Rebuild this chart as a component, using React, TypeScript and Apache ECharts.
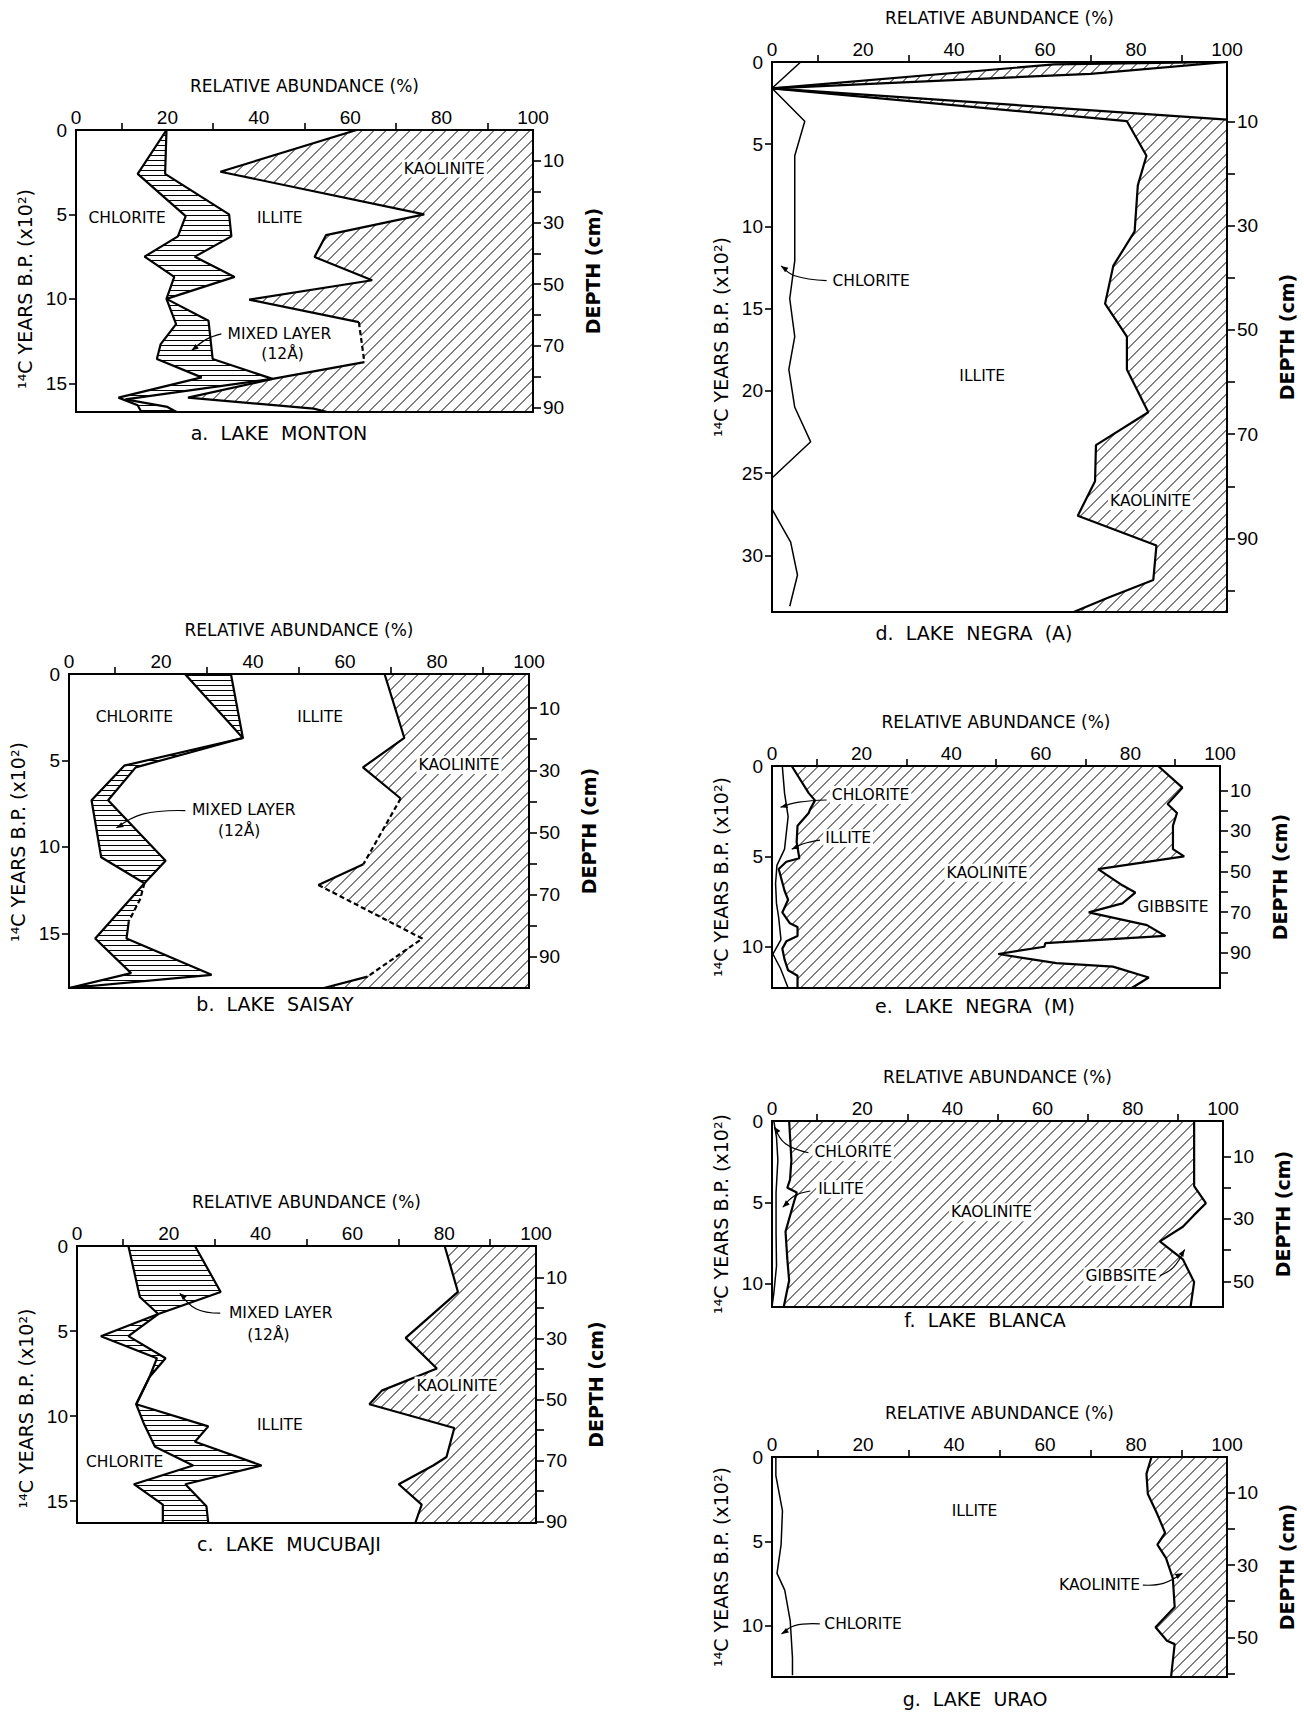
import React, { useEffect, useRef } from "react";
import * as echarts from "echarts";

type Pt = [number, number];

const FONT = '"Liberation Sans", Arial, sans-serif';
const FONT_W = '"DejaVu Sans", "Liberation Sans", sans-serif';

// ---------- shared axis values ----------
const abundanceLabels = [0, 20, 40, 60, 80, 100];
const abundanceTicks = [10, 30, 50, 70, 90];
const abundanceName = "RELATIVE ABUNDANCE (%)";
const yearName = "¹⁴C YEARS B.P. (x10²)";
const depthName = "DEPTH (cm)";

// ---------- a. Lake Monton ----------
const monYearMax = 16.7;
const monDepthExtent = [0, 91.5];
const monYearTicks = [5, 10, 15];
const monYearLabels = [0, 5, 10, 15];
const monDepthTicks = [10, 20, 30, 40, 50, 60, 70, 80, 90];
const monDepthLabels = [10, 30, 50, 70, 90];
const monChlorite: Pt[] = [[19.8, 0], [13.5, 2.6], [24, 5.1], [22.3, 6.3], [15, 7.5], [21.5, 8.7], [19.8, 10.0], [21.9, 11.5], [18.5, 12.7], [17.7, 13.56], [27.5, 14.65], [9.3, 15.85], [13.5, 16.3], [14.3, 16.7]];
const monMixed: Pt[] = [[19.8, 0], [19.5, 2.6], [33.5, 5.0], [34, 6.3], [26, 7.5], [34.7, 8.7], [19.8, 10.0], [29, 11.3], [29.9, 13.56], [43, 14.74], [10.8, 15.95], [20, 16.4], [22, 16.7]];
const monIllite: Pt[] = [[61.4, 0], [31.6, 2.47], [76.2, 5.0], [54.7, 6.23], [52.2, 7.52], [64.8, 8.9], [37.9, 10.05], [61.9, 11.38], [63.1, 13.75], [43, 14.74], [24.5, 15.85], [52, 16.5], [55, 16.7]];
const monIlliteDashedSegs = [7];

// ---------- b. Lake Saisay ----------
const saiYearMax = 18.16;
const saiDepthExtent = [-1, 100.1];
const saiYearTicks = [5, 10, 15];
const saiYearLabels = [0, 5, 10, 15];
const saiDepthTicks = [10, 20, 30, 40, 50, 60, 70, 80, 90];
const saiDepthLabels = [10, 30, 50, 70, 90];
const saiChlorite: Pt[] = [[25.2, 0], [37.8, 3.7], [12, 5.3], [4.9, 7.3], [7, 10.6], [16.4, 12.1], [5.7, 15.3], [13.5, 17.3], [0, 18.16]];
const saiMixed: Pt[] = [[35.2, 0], [37.8, 3.7], [14.5, 5.4], [8.5, 7.3], [21, 10.8], [16.4, 12.1], [15.5, 13.0], [13, 14.3], [12.5, 15.3], [31, 17.4], [0, 18.16]];
const saiMixedDashedSegs = [5, 6];
const saiIllite: Pt[] = [[68.6, 0], [72.9, 3.7], [63.9, 5.4], [72.1, 7.2], [64, 11.0], [54.2, 12.2], [76.8, 15.3], [64.9, 17.5], [55.4, 18.16]];
const saiIlliteDashedSegs = [3, 5, 6];

// ---------- c. Lake Mucubaji ----------
const mucYearMax = 16.28;
const mucDepthExtent = [-0.3, 90.5];
const mucYearTicks = [5, 10, 15];
const mucYearLabels = [0, 5, 10, 15];
const mucDepthTicks = [10, 20, 30, 40, 50, 60, 70, 80, 90];
const mucDepthLabels = [10, 30, 50, 70, 90];
const mucChlorite: Pt[] = [[11.2, 0], [13.7, 3.0], [17.7, 4.0], [5.2, 5.3], [17.4, 6.6], [15.8, 7.7], [12.9, 9.3], [14.5, 10.4], [17, 11.8], [25.3, 12.9], [12.4, 14.0], [18.7, 15.2], [18.7, 16.28]];
const mucMixed: Pt[] = [[25.7, 0], [31.3, 2.7], [17.7, 4.0], [11.2, 5.3], [19.3, 6.6], [15.8, 7.7], [12.9, 9.3], [28.6, 10.6], [25.7, 11.5], [40.2, 12.9], [23.6, 14.0], [28.2, 15.3], [28.6, 16.28]];
const mucIllite: Pt[] = [[80.1, 0], [83, 2.7], [71.6, 5.4], [78.4, 7.2], [66.4, 8.5], [63.7, 9.3], [82.2, 10.7], [80.5, 12.4], [77.6, 12.9], [70.1, 14.0], [75.1, 15.2], [73.7, 16.28]];

// ---------- d. Lake Negra (A) ----------
const negAYearMax = 33.45;
const negADepthExtent = [-1.4, 104.1];
const negAYearTicks = [5, 10, 15, 20, 25, 30];
const negAYearLabels = [0, 5, 10, 15, 20, 25, 30];
const negADepthTicks = [10, 20, 30, 40, 50, 60, 70, 80, 90, 100];
const negADepthLabels = [10, 30, 50, 70, 90];
const negAChlorite: Pt[] = [[6.3, 0], [0, 1.6], [7.2, 3.6], [5, 5.7], [5, 12.1], [3.9, 14.4], [5, 16.7], [3.7, 18.7], [5, 21], [8.5, 23.1], [0, 25.3], [0, 27.2], [4.1, 29.2], [5.6, 31.2], [3.9, 33.1]];
const negATopUpper: Pt[] = [[100, 0], [62, 0.15], [0, 1.6]];
const negATopLower: Pt[] = [[100, 0], [70, 0.72], [0, 1.6]];
const negAUpper: Pt[] = [[0, 1.6], [100, 3.5]];
const negAIllite: Pt[] = [[0, 1.6], [78, 3.6], [82.3, 5.7], [80.4, 7.5], [79.7, 10.3], [75, 12.4], [73.2, 14.7], [78, 16.7], [78, 18.7], [82.7, 21.3], [71.2, 23.3], [71, 25.5], [67.2, 27.6], [84.5, 29.4], [83.8, 31.5], [73.7, 32.6], [66.3, 33.45]];

// ---------- e. Lake Negra (M) ----------
const negMYearMax = 12.28;
const negMDepthExtent = [-2, 107.3];
const negMYearTicks = [5, 10];
const negMYearLabels = [0, 5, 10];
const negMDepthTicks = [10, 20, 30, 40, 50, 60, 70, 80, 90, 100];
const negMDepthLabels = [10, 30, 50, 70, 90];
const negMChlorite: Pt[] = [[2.3, 0], [2.8, 1.5], [3.6, 2.8], [2.8, 4.6], [1.1, 5.5], [0.8, 6.5], [1.0, 7.6], [1.5, 8.4], [2.0, 9.6], [0.2, 10.4], [1.9, 11.2], [3.6, 12.28]];
const negMIllite: Pt[] = [[4.4, 0], [8.2, 1.5], [9.6, 1.9], [8.5, 2.4], [8.2, 2.6], [5.7, 3.3], [5.5, 4.2], [6.1, 5.1], [3.2, 5.3], [1.5, 5.7], [2.8, 6.9], [3.6, 7.4], [2.3, 8.1], [4.0, 8.7], [5.7, 8.9], [5.7, 9.4], [3.2, 9.7], [2.3, 10.1], [2.8, 10.7], [3.6, 11.3], [5.7, 11.6], [5.7, 12.28]];
const negMKaolinite: Pt[] = [[86.2, 0], [91.6, 1.2], [88.3, 2.1], [90.4, 2.6], [89.5, 3.3], [89.5, 4.6], [92, 5.0], [72.8, 5.7], [78.2, 6.6], [81.1, 7.0], [78.2, 7.6], [70.7, 8.1], [83.7, 8.8], [87.8, 9.4], [61, 9.8], [60.8, 10.0], [50.5, 10.4], [63.5, 10.9], [76.1, 11.1], [84.1, 11.7], [80.3, 12.28]];

// ---------- f. Lake Blanca ----------
const blaYearMax = 11.43;
const blaDepthExtent = [-1.4, 58.2];
const blaYearTicks = [5, 10];
const blaYearLabels = [0, 5, 10];
const blaDepthTicks = [10, 20, 30, 40, 50];
const blaDepthLabels = [10, 30, 50];
const blaChlorite: Pt[] = [[0.4, 0], [1.0, 1.0], [1.3, 2.4], [0.9, 4.4], [0.9, 6.9], [1.0, 8.9], [0.4, 10.6], [0, 11.43]];
const blaIllite: Pt[] = [[3.8, 0], [4.3, 2.4], [4.0, 3.6], [3.4, 4.1], [5.5, 4.4], [4.9, 4.95], [3.0, 6.8], [3.4, 8.5], [3.8, 9.8], [2.6, 11.43]];
const blaKaolinite: Pt[] = [[93.6, 0], [93.6, 4.0], [96.2, 5.05], [93.5, 5.8], [91.1, 6.5], [86, 7.4], [91.1, 8.5], [93.6, 9.9], [92.8, 11.43]];

// ---------- g. Lake Urao ----------
const uraYearMax = 13.05;
const uraDepthExtent = [0.1, 61.0];
const uraYearTicks = [5, 10];
const uraYearLabels = [0, 5, 10];
const uraDepthTicks = [10, 20, 30, 40, 50, 60];
const uraDepthLabels = [10, 30, 50];
const uraChlorite: Pt[] = [[0.85, 0], [0.85, 1.1], [2.3, 3.2], [2.0, 5.2], [1.1, 6.9], [2.8, 7.9], [4.0, 9.7], [4.5, 11.9], [4.5, 12.95]];
const uraIllite: Pt[] = [[83.4, 0], [82.3, 1.0], [82.6, 2.2], [84.7, 3.4], [86.4, 4.5], [84.7, 5.2], [86.6, 6.0], [88.1, 7.2], [88.5, 8.9], [84.3, 10.1], [86.8, 10.9], [88.5, 11.1], [87.7, 13.05]];

// ---------- region labels (x %, y 10² yr) ----------
type Lab = { t: string; x: number; y: number; bg?: boolean };
const monLabels: Lab[] = [
  { t: "CHLORITE", x: 11.2, y: 5.24 }, { t: "ILLITE", x: 44.6, y: 5.24 },
  { t: "KAOLINITE", x: 80.6, y: 2.28, bg: true }, { t: "MIXED LAYER", x: 44.5, y: 12.07, bg: true }, { t: "(12Å)", x: 45.2, y: 13.26 },
];
const monLeaders: Pt[][] = [[[31.8, 12.07], [28.5, 12.4], [25.3, 13.06]]];
const saiLabels: Lab[] = [
  { t: "CHLORITE", x: 14.2, y: 2.5 }, { t: "ILLITE", x: 54.6, y: 2.5 },
  { t: "KAOLINITE", x: 84.8, y: 5.27, bg: true }, { t: "MIXED LAYER", x: 38, y: 7.87 }, { t: "(12Å)", x: 37, y: 9.06 },
];
const saiLeaders: Pt[][] = [[[25.3, 7.9], [16, 8.1], [10.3, 8.9]]];
const mucLabels: Lab[] = [
  { t: "MIXED LAYER", x: 44.4, y: 3.95, bg: true }, { t: "(12Å)", x: 41.7, y: 5.26 }, { t: "ILLITE", x: 44.2, y: 10.5 },
  { t: "CHLORITE", x: 10.4, y: 12.7 }, { t: "KAOLINITE", x: 82.8, y: 8.2, bg: true },
];
const mucLeaders: Pt[][] = [[[31.2, 3.95], [26, 3.7], [22.4, 2.78]]];
const negALabels: Lab[] = [
  { t: "CHLORITE", x: 21.8, y: 13.3 }, { t: "ILLITE", x: 46.2, y: 19.1 }, { t: "KAOLINITE", x: 83.2, y: 26.7, bg: true },
];
const negALeaders: Pt[][] = [[[12, 13.3], [5, 13], [2, 12.4]]];
const negMLabels: Lab[] = [
  { t: "CHLORITE", x: 22, y: 1.6, bg: true }, { t: "ILLITE", x: 17, y: 4.0, bg: true },
  { t: "KAOLINITE", x: 48, y: 5.9, bg: true }, { t: "GIBBSITE", x: 89.5, y: 7.8 },
];
const negMLeaders: Pt[][] = [[[12.2, 1.88], [6, 2.0], [1.9, 2.28]], [[10.7, 4.1], [7, 4.3], [4.4, 4.6]]];
const blaLabels: Lab[] = [
  { t: "CHLORITE", x: 18, y: 1.9, bg: true }, { t: "ILLITE", x: 15.3, y: 4.2, bg: true },
  { t: "KAOLINITE", x: 48.7, y: 5.6, bg: true }, { t: "GIBBSITE", x: 77.4, y: 9.55, bg: true },
];
const blaLeaders: Pt[][] = [[[8.1, 1.95], [3, 1.4], [0.5, 0.35]], [[8.5, 4.3], [5, 4.6], [2.4, 5.3]], [[86, 9.5], [89, 9.0], [91.5, 7.9]]];
const uraLabels: Lab[] = [
  { t: "ILLITE", x: 44.5, y: 3.2 }, { t: "KAOLINITE", x: 72, y: 7.6 }, { t: "CHLORITE", x: 20, y: 9.9 },
];
const uraLeaders: Pt[][] = [[[81.5, 7.6], [86, 7.5], [90.2, 6.9]], [[10.5, 9.9], [5, 10.0], [2.1, 10.5]]];

// ---------- helpers ----------
const between = (l: Pt[], r: Pt[]): Pt[] => [...l, ...r.slice().reverse()];
const toRight = (b: Pt[], yMax: number): Pt[] => [...b, [100, yMax], [100, 0]];

function splitDashed(pts: Pt[], dashedSegs: number[] = []) {
  const out: { pts: Pt[]; dashed: boolean }[] = [];
  for (let i = 0; i < pts.length - 1; i++) {
    const d = dashedSegs.includes(i);
    const last = out[out.length - 1];
    if (last && last.dashed === d) last.pts.push(pts[i + 1]);
    else out.push({ pts: [pts[i], pts[i + 1]], dashed: d });
  }
  return out;
}

function hatchPath(pts: number[][], mode: string, step: number): string {
  const proj = mode === "diag" ? (p: number[]) => p[0] + p[1] : (p: number[]) => p[1];
  let lo = Infinity, hi = -Infinity;
  for (const p of pts) { const u = proj(p); if (u < lo) lo = u; if (u > hi) hi = u; }
  let d = "";
  const n = pts.length;
  for (let c = Math.ceil(lo / step) * step + 0.5; c < hi; c += step) {
    const hits: number[][] = [];
    for (let i = 0; i < n; i++) {
      const p = pts[i], q = pts[(i + 1) % n];
      const up = proj(p), uq = proj(q);
      if ((up <= c && uq > c) || (uq <= c && up > c)) {
        const t = (c - up) / (uq - up);
        hits.push([p[0] + t * (q[0] - p[0]), p[1] + t * (q[1] - p[1])]);
      }
    }
    hits.sort((a, b) => a[0] - b[0]);
    for (let k = 0; k + 1 < hits.length; k += 2) {
      d += `M${hits[k][0].toFixed(1)} ${hits[k][1].toFixed(1)}L${hits[k + 1][0].toFixed(1)} ${hits[k + 1][1].toFixed(1)}`;
    }
  }
  return d || "M0 0";
}

type Panel = {
  grid: { left: number; top: number; width: number; height: number };
  yearMax: number; yearTicks: number[]; yearLabels: number[];
  depthExtent: number[]; depthTicks: number[]; depthLabels: number[];
  yNameShift: number;
  caption: string; capX: number; capY: number;
  hatches: { poly: Pt[]; mode: string }[];
  lines: { pts: Pt[]; dashedSegs?: number[]; width?: number }[];
  labels: Lab[]; leaders: Pt[][];
};

const panels: Panel[] = [
  {
    grid: { left: 76, top: 130, width: 457, height: 282 },
    yearMax: monYearMax, yearTicks: monYearTicks, yearLabels: monYearLabels,
    depthExtent: monDepthExtent, depthTicks: monDepthTicks, depthLabels: monDepthLabels, yNameShift: 18,
    caption: "a.  LAKE  MONTON", capX: 279, capY: 433,
    hatches: [{ poly: between(monChlorite, monMixed), mode: "horiz" }, { poly: toRight(monIllite, monYearMax), mode: "diag" }],
    lines: [{ pts: monChlorite }, { pts: monMixed }, { pts: monIllite, dashedSegs: monIlliteDashedSegs }],
    labels: monLabels, leaders: monLeaders,
  },
  {
    grid: { left: 69, top: 674, width: 460, height: 314 },
    yearMax: saiYearMax, yearTicks: saiYearTicks, yearLabels: saiYearLabels,
    depthExtent: saiDepthExtent, depthTicks: saiDepthTicks, depthLabels: saiDepthLabels, yNameShift: 11,
    caption: "b.  LAKE  SAISAY", capX: 275, capY: 1004,
    hatches: [{ poly: between(saiChlorite, saiMixed), mode: "horiz" }, { poly: toRight(saiIllite, saiYearMax), mode: "diag" }],
    lines: [{ pts: saiChlorite }, { pts: saiMixed, dashedSegs: saiMixedDashedSegs }, { pts: saiIllite, dashedSegs: saiIlliteDashedSegs }],
    labels: saiLabels, leaders: saiLeaders,
  },
  {
    grid: { left: 77, top: 1246, width: 459, height: 277 },
    yearMax: mucYearMax, yearTicks: mucYearTicks, yearLabels: mucYearLabels,
    depthExtent: mucDepthExtent, depthTicks: mucDepthTicks, depthLabels: mucDepthLabels, yNameShift: 24,
    caption: "c.  LAKE  MUCUBAJI", capX: 289, capY: 1544,
    hatches: [{ poly: between(mucChlorite, mucMixed), mode: "horiz" }, { poly: toRight(mucIllite, mucYearMax), mode: "diag" }],
    lines: [{ pts: mucChlorite }, { pts: mucMixed }, { pts: mucIllite }],
    labels: mucLabels, leaders: mucLeaders,
  },
  {
    grid: { left: 772, top: 62, width: 455, height: 550 },
    yearMax: negAYearMax, yearTicks: negAYearTicks, yearLabels: negAYearLabels,
    depthExtent: negADepthExtent, depthTicks: negADepthTicks, depthLabels: negADepthLabels, yNameShift: 0,
    caption: "d.  LAKE  NEGRA  (A)", capX: 974, capY: 633,
    hatches: [{ poly: between(negATopUpper, negATopLower), mode: "diag" },
      { poly: [...negAUpper, [100, negAYearMax], ...negAIllite.slice().reverse()] as Pt[], mode: "diag" }],
    lines: [{ pts: negAChlorite, width: 1.5 }, { pts: negATopUpper }, { pts: negATopLower }, { pts: negAUpper }, { pts: negAIllite }],
    labels: negALabels, leaders: negALeaders,
  },
  {
    grid: { left: 772, top: 766, width: 448, height: 222 },
    yearMax: negMYearMax, yearTicks: negMYearTicks, yearLabels: negMYearLabels,
    depthExtent: negMDepthExtent, depthTicks: negMDepthTicks, depthLabels: negMDepthLabels, yNameShift: 0,
    caption: "e.  LAKE  NEGRA  (M)", capX: 975, capY: 1006,
    hatches: [{ poly: between(negMIllite, negMKaolinite), mode: "diag" }],
    lines: [{ pts: negMChlorite, width: 1.5 }, { pts: negMIllite }, { pts: negMKaolinite }],
    labels: negMLabels, leaders: negMLeaders,
  },
  {
    grid: { left: 772, top: 1121, width: 451, height: 186 },
    yearMax: blaYearMax, yearTicks: blaYearTicks, yearLabels: blaYearLabels,
    depthExtent: blaDepthExtent, depthTicks: blaDepthTicks, depthLabels: blaDepthLabels, yNameShift: 0,
    caption: "f.  LAKE  BLANCA", capX: 985, capY: 1320,
    hatches: [{ poly: between(blaIllite, blaKaolinite), mode: "diag" }],
    lines: [{ pts: blaChlorite, width: 1.5 }, { pts: blaIllite }, { pts: blaKaolinite }],
    labels: blaLabels, leaders: blaLeaders,
  },
  {
    grid: { left: 772, top: 1457, width: 455, height: 220 },
    yearMax: uraYearMax, yearTicks: uraYearTicks, yearLabels: uraYearLabels,
    depthExtent: uraDepthExtent, depthTicks: uraDepthTicks, depthLabels: uraDepthLabels, yNameShift: 0,
    caption: "g.  LAKE  URAO", capX: 975, capY: 1699,
    hatches: [{ poly: toRight(uraIllite, uraYearMax), mode: "diag" }],
    lines: [{ pts: uraChlorite, width: 1.5 }, { pts: uraIllite }],
    labels: uraLabels, leaders: uraLeaders,
  },
];

function buildOption() {
  const grid: any[] = [], xAxis: any[] = [], yAxis: any[] = [], series: any[] = [], graphic: any[] = [];
  const tickStyle = { color: "#000", width: 1.6 };
  const lblStyle = { color: "#000", fontSize: 19, fontFamily: FONT };
  panels.forEach((p, i) => {
    grid.push({ ...p.grid, show: true, borderColor: "#000", borderWidth: 2, backgroundColor: "transparent" });
    xAxis.push({
      gridIndex: i, type: "value", position: "top", min: 0, max: 100, interval: 10,
      axisLine: { show: false }, splitLine: { show: false },
      axisTick: { show: true, inside: false, length: 7, customValues: abundanceTicks, lineStyle: tickStyle },
      axisLabel: { show: true, margin: 3, customValues: abundanceLabels, ...lblStyle },
      name: abundanceName, nameLocation: "middle", nameGap: 36,
      nameTextStyle: { color: "#000", fontSize: 17, fontFamily: FONT_W },
    });
    yAxis.push({
      gridIndex: i, type: "value", position: "left", inverse: true, min: 0, max: p.yearMax,
      axisLine: { show: false }, splitLine: { show: false },
      axisTick: { show: true, inside: false, length: 7, customValues: p.yearTicks, lineStyle: tickStyle },
      axisLabel: { show: true, margin: 9, customValues: p.yearLabels, ...lblStyle },
      name: yearName, nameLocation: "middle", nameGap: 42, nameRotate: 90,
      nameTextStyle: { color: "#000", fontSize: 19, fontFamily: FONT_W, padding: [0, p.yNameShift * 2, 0, 0] },
    });
    yAxis.push({
      gridIndex: i, type: "value", position: "right", inverse: true, min: p.depthExtent[0], max: p.depthExtent[1],
      axisLine: { show: false }, splitLine: { show: false },
      axisTick: { show: true, inside: false, length: 8, customValues: p.depthTicks, lineStyle: tickStyle },
      axisLabel: { show: true, margin: 10, customValues: p.depthLabels, ...lblStyle },
      name: depthName, nameLocation: "middle", nameGap: 50, nameRotate: 90,
      nameTextStyle: { color: "#000", fontSize: 19, fontWeight: "bold", fontFamily: FONT_W },
    });
    const yi = i * 2;
    p.hatches.forEach((h) => {
      series.push({
        type: "custom", xAxisIndex: i, yAxisIndex: yi, silent: true, z: 1, clip: true,
        data: [h.poly[0]],
        renderItem: (params: any, api: any) => {
          const px = h.poly.map((q) => api.coord(q));
          return {
            type: "path",
            shape: { pathData: hatchPath(px, h.mode, h.mode === "diag" ? 12 : 5) },
            style: { stroke: "#000", lineWidth: 1, fill: "none" },
          };
        },
      });
    });
    p.lines.forEach((ln) => {
      splitDashed(ln.pts, ln.dashedSegs).forEach((seg) => {
        series.push({
          type: "line", xAxisIndex: i, yAxisIndex: yi, silent: true, z: 3, symbol: "none",
          data: seg.pts,
          lineStyle: { color: "#000", width: ln.width ?? 2.2, type: seg.dashed ? [5, 3] : "solid" },
        });
      });
    });
    series.push({
      type: "custom", xAxisIndex: i, yAxisIndex: yi, silent: true, z: 5, clip: false,
      data: p.labels.map((l) => [l.x, l.y]),
      renderItem: (params: any, api: any) => {
        const l = p.labels[params.dataIndex];
        const c = api.coord([l.x, l.y]);
        return {
          type: "text", x: c[0], y: c[1],
          style: {
            text: l.t, fontSize: 15.5, fontFamily: FONT_W, fill: "#000", align: "center", verticalAlign: "middle",
            backgroundColor: l.bg ? "#fff" : undefined, padding: l.bg ? [1, 2] : 0,
          },
        };
      },
    });
    series.push({
      type: "custom", xAxisIndex: i, yAxisIndex: yi, silent: true, z: 6, clip: false,
      data: p.leaders.map((ld) => ld[ld.length - 1]),
      renderItem: (params: any, api: any) => {
        const ld = p.leaders[params.dataIndex];
        const px = ld.map((q) => api.coord(q));
        const tip = px[px.length - 1], prev = px[px.length - 2];
        let dx = tip[0] - prev[0], dy = tip[1] - prev[1];
        const len = Math.hypot(dx, dy) || 1; dx /= len; dy /= len;
        const hl = 7, hw = 2.8;
        const head = [tip, [tip[0] - dx * hl - dy * hw, tip[1] - dy * hl + dx * hw], [tip[0] - dx * hl + dy * hw, tip[1] - dy * hl - dx * hw]];
        return {
          type: "group",
          children: [
            { type: "polyline", shape: { points: px, smooth: 0.4 }, style: { stroke: "#000", lineWidth: 1.2, fill: "none" } },
            { type: "polygon", shape: { points: head }, style: { fill: "#000" } },
          ],
        };
      },
    });
    graphic.push({
      type: "text", x: p.capX, y: p.capY,
      style: { text: p.caption, fontSize: 19, fontFamily: FONT_W, fill: "#000", align: "center", verticalAlign: "middle", textAlign: "center", textVerticalAlign: "middle" },
    });
  });
  return {
    animation: false,
    backgroundColor: "#fff",
    textStyle: { fontFamily: FONT },
    grid, xAxis, yAxis, series, graphic,
  };
}

export default function App() {
  const ref = useRef<HTMLDivElement>(null);
  useEffect(() => {
    const chart = echarts.init(ref.current!, null, { renderer: "svg" });
    chart.setOption(buildOption() as any);
    return () => chart.dispose();
  }, []);
  return <div ref={ref} style={{ position: "fixed", left: 0, top: 0, width: 1304, height: 1714, background: "#fff" }} />;
}
